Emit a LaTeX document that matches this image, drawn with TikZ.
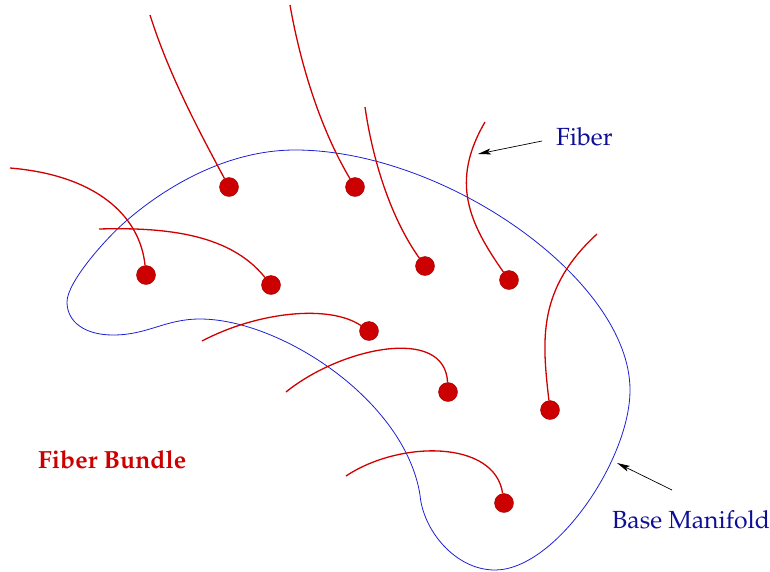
\documentclass[tikz,border=0pt]{standalone}
\usepackage[T1]{fontenc}
\usepackage{mathpazo}
\usetikzlibrary{arrows.meta}
\definecolor{fibred}{HTML}{D00000}
\definecolor{dotred}{HTML}{CC0000}
\definecolor{dotedge}{HTML}{990000}
\definecolor{baseblue}{HTML}{1E1ED2}
\definecolor{labelblue}{HTML}{0E0E96}
\tikzset{
  fiberline/.style={draw=fibred, line width=1.3pt},
  basecurve/.style={draw=baseblue, line width=0.8pt},
  footdot/.style={circle, fill=dotred, draw=dotedge, line width=0.4pt,
                  minimum size=19pt, inner sep=0pt},
  pointer/.style={draw=black, line width=0.7pt,
                  -{Stealth[length=13pt, width=6pt, inset=3pt]}},
  labeltext/.style={text=labelblue, inner sep=0pt,
                    font=\fontsize{24.8}{29}\selectfont},
  titletext/.style={text=dotred, inner sep=0pt,
                    font=\fontsize{24.8}{29}\selectfont\bfseries},
}
\begin{document}
\begin{tikzpicture}[x=1pt, y=-1pt]
\useasboundingbox (0,0) rectangle (770,571);

% base manifold: a closed curve with a fold on its lower left
\coordinate (bTop) at (295,150);
\coordinate (bRight) at (630,390);
\coordinate (bBottom) at (495,570);
\coordinate (bFold) at (420,495);
\coordinate (bRidge) at (200,319);
\coordinate (bDip) at (113,335);
\coordinate (bLeft) at (67,302);
\coordinate (bUpper) at (125,222);
\draw[basecurve] (bTop)
  .. controls (445,150) and (630,280) .. (bRight)
  .. controls (630,460) and (555,570) .. (bBottom)
  .. controls (455,570) and (423,530) .. (bFold)
  .. controls (405,400) and (280,319) .. (bRidge)
  .. controls (165,319) and (148,335) .. (bDip)
  .. controls (85,335) and (67,322) .. (bLeft)
  .. controls (67,282) and (106,238.5) .. (bUpper)
  .. controls (162.5,189) and (225,150) .. (bTop) -- cycle;

% points of the base where fibers attach
\node[footdot] (d1) at (229,187) {};
\node[footdot] (d2) at (355,187) {};
\node[footdot] (d3) at (425,266) {};
\node[footdot] (d4) at (509,280) {};
\node[footdot] (d5) at (550,410) {};
\node[footdot] (d6) at (146,275) {};
\node[footdot] (d7) at (271,285) {};
\node[footdot] (d8) at (369,331) {};
\node[footdot] (d9) at (448,392) {};
\node[footdot] (d10) at (504,503) {};

% free ends of the fibers
\coordinate (e1) at (150,15);
\coordinate (e2) at (290,5);
\coordinate (e3) at (365,107);
\coordinate (e4) at (485,122);
\coordinate (e5) at (597,234);
\coordinate (e6) at (10,168);
\coordinate (e7) at (99,229);
\coordinate (e8) at (202,341);
\coordinate (e9) at (286,392);
\coordinate (e10) at (346,476);

% fibers
\draw[fiberline] (e1) .. controls (169,75) and (199,131) .. (d1);
\draw[fiberline] (e2) .. controls (301,68) and (322,132) .. (d2);
\draw[fiberline] (e3) .. controls (373,163) and (392,220) .. (d3);
\draw[fiberline] (e4) .. controls (450,182) and (469,223) .. (d4);
\draw[fiberline] (e5) .. controls (537,289) and (542,340) .. (d5);
\draw[fiberline] (e6) .. controls (95,175) and (140,215) .. (d6);
\draw[fiberline] (e7) .. controls (169,227) and (231,235) .. (d7);
\draw[fiberline] (e8) .. controls (257,312) and (329,304) .. (d8);
\draw[fiberline] (e9) .. controls (340,348) and (445,325) .. (d9);
\draw[fiberline] (e10) .. controls (400,440) and (495,440) .. (d10);

% labels
\node[labeltext, anchor=base west] (fib) at (556,145) {Fiber};
\node[labeltext, anchor=base west] (base) at (612,528) {Base Manifold};
\node[titletext, anchor=base west] (bundle) at (38,468) {Fiber Bundle};

% pointers
\coordinate (fibtail) at (542,141);
\coordinate (fibhead) at (478,154);
\coordinate (basetail) at (672,490);
\coordinate (basehead) at (617,463);
\draw[pointer] (fibtail) -- (fibhead);
\draw[pointer] (basetail) -- (basehead);
\end{tikzpicture}
\end{document}
